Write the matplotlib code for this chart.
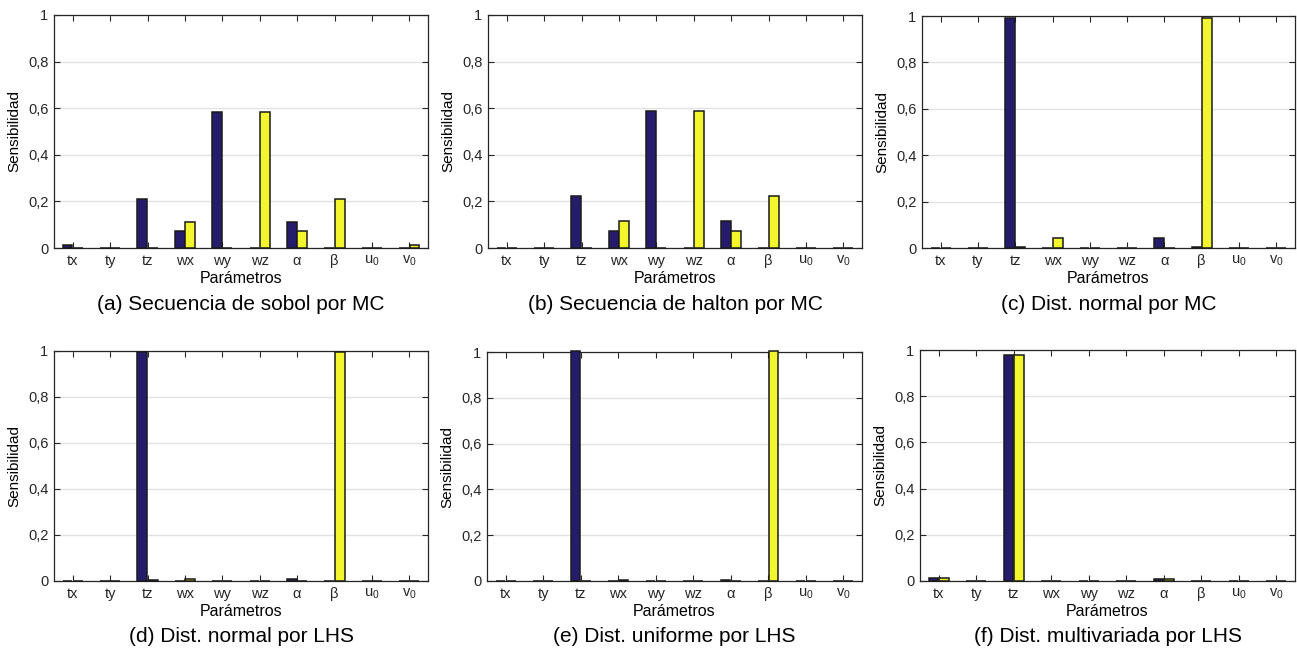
import matplotlib
matplotlib.use("Agg")
import matplotlib.pyplot as plt
import numpy as np

plt.rcParams['font.family'] = ['Liberation Sans', 'DejaVu Sans']
plt.rcParams['mathtext.fontset'] = 'custom'
plt.rcParams['mathtext.rm'] = 'Liberation Sans'
plt.rcParams['mathtext.it'] = 'Liberation Sans'

params = ['tx', 'ty', 'tz', 'wx', 'wy', 'wz', 'α', 'β', 'u$_0$', 'v$_0$']
yticks = [0, 0.2, 0.4, 0.6, 0.8, 1.0]
ytick_labels = ['0', '0,2', '0,4', '0,6', '0,8', '1']

titles = ['(a) Secuencia de sobol por MC', '(b) Secuencia de halton por MC',
          '(c) Dist. normal por MC', '(d) Dist. normal por LHS',
          '(e) Dist. uniforme por LHS', '(f) Dist. multivariada por LHS']

a_navy = [0.012, 0.002, 0.21, 0.075, 0.585, 0.002, 0.113, 0.002, 0.002, 0.002]
a_yell = [0.002, 0.002, 0.002, 0.113, 0.002, 0.585, 0.075, 0.21, 0.001, 0.012]
b_navy = [0.002, 0.002, 0.225, 0.073, 0.59, 0.002, 0.118, 0.002, 0.002, 0.002]
b_yell = [0.002, 0.002, 0.002, 0.118, 0.002, 0.59, 0.073, 0.225, 0.001, 0.001]
c_navy = [0.002, 0.002, 0.993, 0.002, 0.002, 0.002, 0.042, 0.004, 0.002, 0.002]
c_yell = [0.002, 0.002, 0.004, 0.042, 0.002, 0.002, 0.002, 0.993, 0.002, 0.002]
d_navy = [0.002, 0.002, 0.995, 0.002, 0.002, 0.002, 0.010, 0.002, 0.002, 0.002]
d_yell = [0.002, 0.002, 0.003, 0.010, 0.002, 0.002, 0.002, 0.995, 0.002, 0.002]
e_navy = [0.002, 0.002, 1.003, 0.002, 0.002, 0.002, 0.006, 0.002, 0.002, 0.002]
e_yell = [0.002, 0.002, 0.002, 0.006, 0.002, 0.002, 0.002, 1.003, 0.002, 0.002]
f_navy = [0.015, 0.002, 0.978, 0.002, 0.002, 0.002, 0.010, 0.002, 0.002, 0.002]
f_yell = [0.015, 0.002, 0.978, 0.002, 0.002, 0.002, 0.010, 0.002, 0.002, 0.002]

series = [(a_navy, a_yell), (b_navy, b_yell), (c_navy, c_yell),
          (d_navy, d_yell), (e_navy, e_yell), (f_navy, f_yell)]

NAVY = '#251d6c'
YELLOW = '#f3f62c'
EDGE = '#1a1a1a'
TXT = '#262626'

W, H = 1297, 651
fig = plt.figure(figsize=(W / 100, H / 100), dpi=100)

# pixel boxes (left, right, top, bottom)
boxes = [(54, 428, 15, 248), (488, 862, 15, 248), (922, 1295, 16, 248),
         (54, 428, 351, 581), (487, 862, 352, 581), (920, 1295, 350, 581)]

x = np.arange(1, len(params) + 1)
bw = 0.26
for i, ((l, r, t, b), (nv, yv), title) in enumerate(zip(boxes, series, titles)):
    ax = fig.add_axes([l / W, 1 - b / H, (r - l) / W, (b - t) / H])
    ax.bar(x - 0.14, nv, width=bw, color=NAVY, edgecolor=EDGE, linewidth=1.1, zorder=3, clip_on=False)
    ax.bar(x + 0.14, yv, width=bw, color=YELLOW, edgecolor=EDGE, linewidth=1.1, zorder=3, clip_on=False)
    ax.set_xlim(0.5, 10.5)
    ax.set_ylim(0, 1)
    ax.set_yticks(yticks)
    ax.set_yticklabels(ytick_labels)
    ax.set_xticks(x)
    ax.set_xticklabels(params)
    ax.yaxis.grid(True, color='#e2e2e2', linewidth=1.0, zorder=0)
    ax.set_axisbelow(True)
    ax.tick_params(direction='in', length=4.5, width=0.8, top=True, right=True,
                   labelsize=10.5, colors=TXT, pad=4)
    for s in ax.spines.values():
        s.set_color(TXT)
        s.set_linewidth(0.9)
    ax.set_ylabel('Sensibilidad', fontsize=11, color='black', labelpad=5)
    ax.set_xlabel('Parámetros', fontsize=11.5, color='black', labelpad=2)
    cx = (l + r) / 2 / W
    ty = 1 - (b + 56) / H
    fig.text(cx, ty, title, ha='center', va='center', fontsize=15, color='black')

fig.savefig('out.png', dpi=100)
